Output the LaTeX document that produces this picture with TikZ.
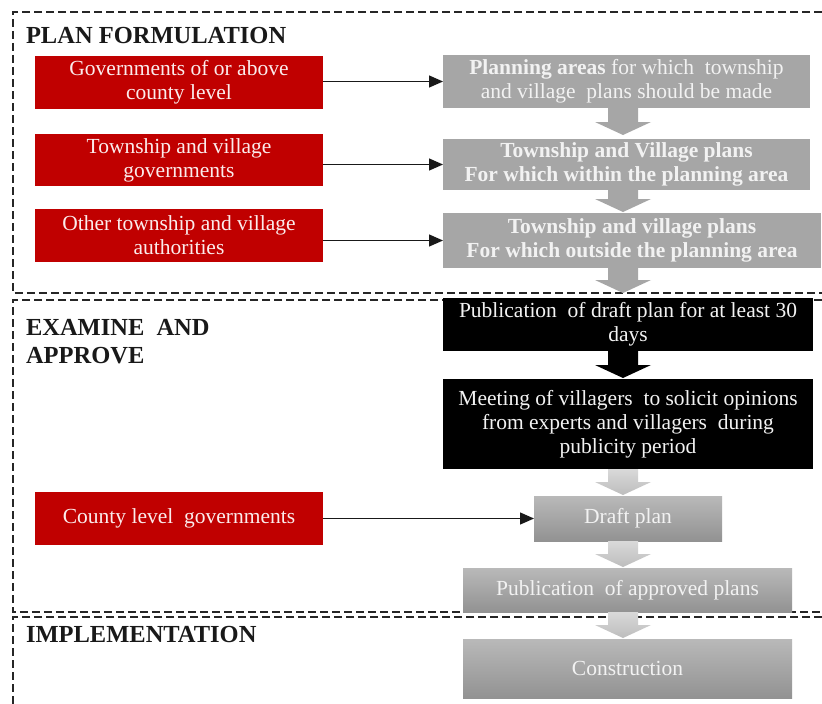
\documentclass[tikz,border=0pt]{standalone}
\usepackage{fontspec}
\setmainfont{Liberation Serif}
\usetikzlibrary{arrows.meta,calc}

\definecolor{actorred}{HTML}{C00000}
\definecolor{actortext}{HTML}{FBECEC}
\definecolor{plangray}{HTML}{A6A6A6}
\definecolor{paletext}{HTML}{F2F2F2}
\definecolor{stagetop}{HTML}{B9B9B9}
\definecolor{stagebot}{HTML}{929292}
\definecolor{flowtop}{HTML}{D9D9D9}
\definecolor{flowbot}{HTML}{BDBDBD}

% Downward block arrow from the bottom of #3 to the top of #4, on the spine line.
% Optional #1 leaves a gap above the target box.
\newcommand{\flowarrow}[4][0pt]{%
  \path[#2] let \p1=(#3.south -| spine), \p2=(#4.north -| spine) in
    (\x1-15pt,\y1) -- (\x1+15pt,\y1) -- (\x1+15pt,\y2+#1+13pt)
    -- (\x1+28pt,\y2+#1+13pt) -- (\x1,\y2+#1) -- (\x1-28pt,\y2+#1+13pt)
    -- (\x1-15pt,\y2+#1+13pt) -- cycle;}

\begin{document}
\begin{tikzpicture}[x=1pt,y=-1pt,
  every node/.style={inner sep=0pt,outer sep=0pt},
  panel/.style={dash pattern=on 8pt off 4pt,line width=1.2pt,black!85},
  stagetitle/.style={font=\fontsize{24.5}{28}\selectfont\bfseries,anchor=base west,align=left,text=black!90},
  body/.style={font=\fontsize{21.5}{24}\selectfont,align=center,text=paletext},
  actor/.style={body,fill=actorred,text=actortext,minimum width=288pt},
  plan/.style={body,fill=plangray,font=\fontsize{21.5}{24}\selectfont\bfseries},
  notice/.style={body,fill=black,minimum width=370pt},
  stage/.style={body,top color=stagetop,bottom color=stagebot},
  link/.style={-{Triangle[length=14pt,width=12pt]},line width=1.3pt,black!90},
  greyflow/.style={fill=plangray},
  blackflow/.style={fill=black},
  lightflow/.style={top color=flowtop,bottom color=flowbot},
]
\useasboundingbox (0,0) rectangle (822,704);
\fill[white] (0,0) rectangle (822,704);

% stage panels
\draw[panel] (822,12) -- (13,12) -- (13,293) -- (822,293);
\draw[panel] (822,300) -- (13,300) -- (13,612) -- (822,612);
\draw[panel] (822,617) -- (13,617) -- (13,706);

% stage titles (a two-line title sits on the baseline of its last line)
\node[stagetitle] (tplan) at (26,43) {PLAN FORMULATION};
\node[stagetitle] (texam) at (26,363) {EXAMINE\hspace{6pt} AND\\APPROVE};
\node[stagetitle] (timpl) at (26,642) {IMPLEMENTATION};

% responsible bodies
\node[actor,minimum height=53pt] (r1) at (179,82.5) {Governments of or above\\county level};
\node[actor,minimum height=52pt] (r2) at (179,160) {Township and village\\governments};
\node[actor,minimum height=53pt] (r3) at (179,235.5) {Other township and village\\authorities};
\node[actor,minimum height=53pt] (r4) at (179,518.5) {County level\ \ governments};

% plans
\node[plan,minimum width=367pt,minimum height=53pt] (g1) at (626.5,81.5)
  {Planning areas \mdseries for which\ \ township\\\mdseries and village\ \ plans should be made};
\node[plan,minimum width=367pt,minimum height=51pt] (g2) at (626.5,164.5)
  {Township and Village plans\\For which within the planning area};
\node[plan,minimum width=378pt,minimum height=55pt] (g3) at (632,240.5)
  {Township and village plans\\For which outside the planning area};

% publicity steps
\node[notice,minimum height=53pt] (k1) at (628,324.5)
  {Publication\ \ of draft plan for at least 30\\days};
\node[notice,minimum height=90pt] (k2) at (628,424)
  {Meeting of villagers\ \ to solicit opinions\\from experts and villagers\ \ during\\publicity period};

% approval and implementation
\node[stage,minimum width=188pt,minimum height=45pt] (d1) at (628,518.5) {Draft plan};
\node[stage,minimum width=329pt,minimum height=44pt] (d2) at (627.5,590) {Publication\ \ of approved plans};
\node[stage,minimum width=329pt,minimum height=59pt] (d3) at (627.5,668.5) {Construction};

% flow arrows
\coordinate (spine) at (623,0);
\flowarrow[4pt]{greyflow}{g1}{g2}
\flowarrow[1pt]{greyflow}{g2}{g3}
\flowarrow[5pt]{greyflow}{g3}{k1}
\flowarrow[1pt]{blackflow}{k1}{k2}
\flowarrow[1pt]{lightflow}{k2}{d1}
\flowarrow[1pt]{lightflow}{d1}{d2}
\flowarrow[1pt]{lightflow}{d2}{d3}

% responsibility links
\draw[link] (r1.east |- g1.west) -- (g1.west);
\draw[link] (r2.east |- g2.west) -- (g2.west);
\draw[link] (r3.east |- g3.west) -- (g3.west);
\draw[link] (r4.east |- d1.west) -- (d1.west);
\end{tikzpicture}
\end{document}
